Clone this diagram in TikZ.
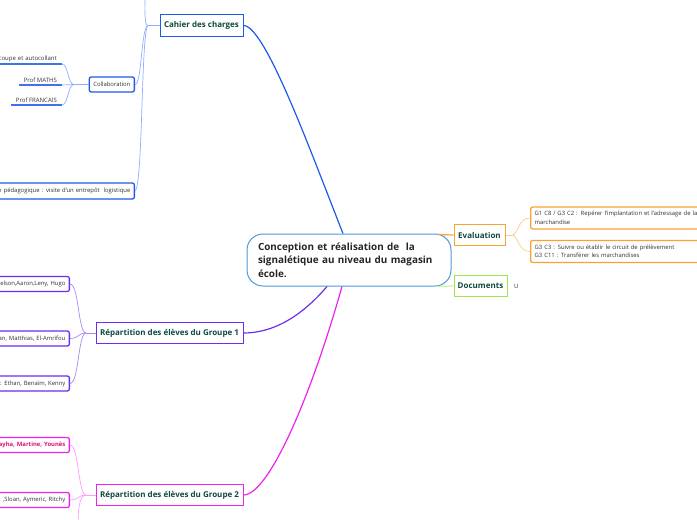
\documentclass[tikz,border=0pt]{standalone}
\usepackage{fontspec}
\setmainfont{Open Sans}
\usetikzlibrary{positioning}

\definecolor{labelgreen}{HTML}{0E4A3C}
\definecolor{leafgrey}{HTML}{333333}
\definecolor{centreblue}{HTML}{4A9AD8}
\definecolor{cahierblue}{HTML}{1F58EA}
\definecolor{cahiersub}{HTML}{8FAEFC}
\definecolor{evalorange}{HTML}{F7A334}
\definecolor{evalsub}{HTML}{FBCB8C}
\definecolor{docgreen}{HTML}{9BE84A}
\definecolor{docsub}{HTML}{C8F3A0}
\definecolor{grpviolet}{HTML}{6A2EF0}
\definecolor{violetsub}{HTML}{AB86F6}
\definecolor{grpmagenta}{HTML}{EE22EE}
\definecolor{magentasub}{HTML}{FF9CFF}
\definecolor{namered}{HTML}{E0106A}

\begin{document}
\begin{tikzpicture}[x=1pt,y=-1pt,
  topic/.style={draw,line width=1pt,fill=white,font=\bfseries\fontsize{8}{9}\selectfont,text=labelgreen,minimum height=21.5pt,inner xsep=3pt},
  leaf/.style={draw,rounded corners=2pt,line width=1.3pt,fill=white,font=\fontsize{5.9}{8.5}\selectfont,text=leafgrey,inner xsep=4pt,inner ysep=2.5pt},
  uline/.style={font=\fontsize{6}{7}\selectfont,text=leafgrey,inner xsep=5pt,inner ysep=2pt},
  branch/.style={line width=1.2pt},
  twig/.style={line width=0.7pt}]
\useasboundingbox (0,0) rectangle (697,520);
\clip (0,0) rectangle (697,520);

% centre
\node[draw=centreblue,line width=1pt,rounded corners=16pt,fill=white,text width=182pt,inner xsep=11pt,minimum height=52pt,align=left,font=\bfseries\fontsize{9.9}{13.5}\selectfont,text=black!85] (centre) at (349,260) {Conception et réalisation de\ \ la\\signalétique au niveau du magasin\\école.};

% main topics
\node[topic,draw=cahierblue,minimum width=83pt] (cahier) at (201.5,25.5) {Cahier des charges};
\node[topic,draw=evalorange,minimum width=51pt] (eval) at (479.5,235) {Evaluation};
\node[topic,draw=docgreen,minimum width=53pt] (docs) at (480.5,286) {Documents};
\node[font=\fontsize{6}{7}\selectfont,text=leafgrey,right=3pt of docs] (attach) {U};
\node[topic,draw=grpviolet,minimum width=147pt] (grpA) at (169.5,333) {Répartition des élèves du Groupe 1};
\node[topic,draw=grpmagenta,minimum width=147pt] (grpB) at (169.5,495) {Répartition des élèves du Groupe 2};

\draw[branch,cahierblue] ([xshift=-6pt]centre.north) .. controls (310,150) and (265,25.5) .. (cahier.east);
\draw[branch,grpviolet] ([xshift=-22pt]centre.south) .. controls (300,318) and (272,333) .. (grpA.east);
\draw[branch,grpmagenta] ([xshift=-7pt]centre.south) .. controls (310,400) and (268,495) .. (grpB.east);
\draw[branch,evalorange] ([xshift=-13pt,yshift=-1pt]centre.north east) -- (eval.west);
\draw[branch,docsub] ([xshift=-15pt]centre.south east) -- (docs.west);

% evaluation
\node[leaf,draw=evalorange,anchor=west,text width=200pt,align=left,minimum height=22pt] (evalA) at (530,218) {G1 C8 / G3 C2 : Repérer l'implantation et l'adressage de la\\marchandise};
\node[leaf,draw=evalorange,anchor=west,text width=200pt,align=left,minimum height=22pt] (evalB) at (530,251.5) {G3 C3 : Suivre ou établir le circuit de prélèvement\\G3 C11 : Transférer les marchandises};
\coordinate (ej) at (512,235);
\draw[twig,evalsub] (eval.east) -- (ej);
\draw[twig,evalsub] (ej) .. controls (518,235) and (518,218) .. (evalA.west);
\draw[twig,evalsub] (ej) .. controls (518,235) and (518,251.5) .. (evalB.west);

% cahier des charges
\node[leaf,draw=cahierblue,anchor=east,minimum height=15pt] (colab) at (135,84.5) {Collaboration};
\node[leaf,draw=cahierblue,anchor=east,text width=180pt,align=right,minimum height=16pt] (sortie) at (135,191) {e pédagogique : visite d'un entrepôt\ \ logistique};
\coordinate (cj) at (148,25.5);
\coordinate (ctop) at (145,-10);
\draw[twig,cahiersub] (cahier.west) -- (cj);
\draw[twig,cahiersub] (cj) .. controls (144,25.5) and (145,10) .. (ctop);
\draw[twig,cahiersub] (cj) .. controls (141,27) and (142,84.5) .. (colab.east);
\draw[twig,cahiersub] (cj) .. controls (141,30) and (143,188) .. (sortie.east);

% collaboration
\node[uline,anchor=south east,text width=80pt,align=right] (decoupe) at (62,64) {coupe et autocollant};
\node[uline,anchor=south east] (maths) at (62,85) {Prof MATHS};
\node[uline,anchor=south east] (francais) at (62,105) {Prof FRANCAIS};
\foreach \n in {decoupe,maths,francais}
  \draw[line width=1.5pt,cahierblue!85] (\n.south west) -- (\n.south east);
\coordinate (kj) at (74,84.5);
\draw[twig,cahiersub] (colab.west) -- (kj);
\draw[twig,cahiersub] (kj) .. controls (68,84.5) and (68,64) .. (decoupe.south east);
\draw[twig,cahiersub] (kj) -- (maths.south east);
\draw[twig,cahiersub] (kj) .. controls (68,84.5) and (68,105) .. (francais.south east);

% groupe 1
\node[leaf,draw=grpviolet,anchor=east,text width=120pt,align=right,minimum height=15pt] (grpAa) at (70,284) {elson,Aaron,Leny, Hugo};
\node[leaf,draw=grpviolet,anchor=east,text width=120pt,align=right,minimum height=15pt] (grpAb) at (70,338.5) {an, Matthias, El-Amrifou};
\node[leaf,draw=grpviolet,anchor=east,text width=120pt,align=right,minimum height=15pt] (grpAc) at (70,383.5) {: Ethan, Benaïm, Kenny};
\coordinate (aj) at (86,333);
\draw[twig,violetsub] (grpA.west) -- (aj);
\foreach \n in {grpAa,grpAb,grpAc}
  \draw[twig,violetsub] (aj) .. controls (78,333) and (79,333 |- \n.east) .. (\n.east);

% groupe 2
\node[leaf,draw=grpmagenta,anchor=east,text width=120pt,align=right,minimum height=15pt,text=namered,font=\bfseries\fontsize{5.9}{8.5}\selectfont] (grpBa) at (70,445) {ayha, Martine, Younès};
\node[leaf,draw=grpmagenta,anchor=east,text width=120pt,align=right,minimum height=15pt] (grpBb) at (70,500) {,Sloan, Aymeric, Ritchy};
\coordinate (bj) at (86,495);
\coordinate (bbot) at (78,530);
\draw[twig,magentasub] (grpB.west) -- (bj);
\foreach \n in {grpBa,grpBb}
  \draw[twig,magentasub] (bj) .. controls (78,495) and (79,495 |- \n.east) .. (\n.east);
\draw[twig,magentasub] (bj) .. controls (79,495) and (78,510) .. (bbot);
\end{tikzpicture}
\end{document}
